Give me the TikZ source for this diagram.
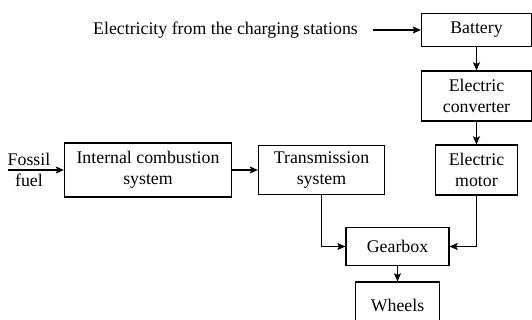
\documentclass[tikz,border=0pt]{standalone}
\usepackage{fontspec}
\setmainfont{Liberation Serif}
\usetikzlibrary{arrows.meta, positioning}
\tikzset{
  block/.style={rectangle, draw=black, line width=1.3pt, inner sep=0pt,
                align=center, text centered},
  arrow/.style={-{Stealth[length=8pt, width=7pt, inset=1.5pt]}, draw=black, line width=1.3pt},
}

\begin{document}
\begin{tikzpicture}[
  x=1pt, y=-1pt,
  every node/.style={font=\fontsize{17.8}{21.4}\selectfont}
]
  \useasboundingbox (0,0) rectangle (532,320);

  \node[block, minimum width=110pt, minimum height=33pt] (battery) at (476.5,30) {Battery};
  \node[block, minimum width=110pt, minimum height=50pt] (converter) at (476.5,96) {Electric\\converter};
  \node[block, minimum width=82pt, minimum height=50pt] (motor) at (476.5,170) {Electric\\motor};
  \node[block, minimum width=167pt, minimum height=54pt] (ice) at (148,170) {Internal combustion\\system};
  \node[block, minimum width=126pt, minimum height=49pt] (trans) at (321.5,170) {Transmission\\system};
  \node[block, minimum width=103pt, minimum height=38pt] (gearbox) at (397.5,246.5) {Gearbox};
  \node[block, minimum width=84pt, minimum height=46pt] (wheels) at (397.5,305) {Wheels};

  \node[anchor=east, inner sep=0pt] (elec) at (358,30) {Electricity from the charging stations};
  \node[align=center, inner sep=0pt] (fuel) at (29,170) {Fossil\\fuel};

  \draw[arrow] ([xshift=15pt]elec.east) -- (battery.west);
  \draw[arrow] (battery) -- (converter);
  \draw[arrow] (converter) -- (motor);
  \draw[arrow] (fuel.west) -- (ice.west);
  \draw[arrow] (ice) -- (trans);
  \draw[arrow] (trans.south) |- (gearbox.west);
  \draw[arrow] (motor.south) |- (gearbox.east);
  \draw[arrow] (gearbox) -- (wheels);
\end{tikzpicture}
\end{document}
